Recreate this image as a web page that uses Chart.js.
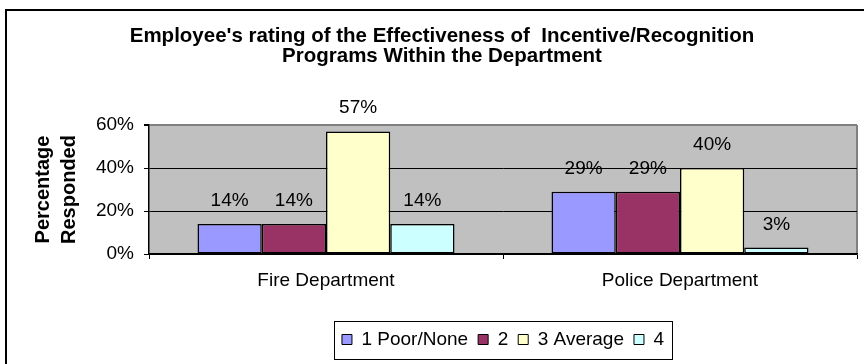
<!DOCTYPE html>
<html>
<head>
<meta charset="utf-8">
<script src="https://cdn.jsdelivr.net/npm/chart.js@4.4.1/dist/chart.umd.min.js"></script>
<style>
  html, body { margin: 0; padding: 0; background: #fff; overflow: hidden; }
  #frame { position: absolute; left: 5px; top: 9px; width: 900px; height: 400px; border: 2px solid #000; }
  #wrap { position: absolute; left: 0; top: 0; width: 864px; height: 364px; }
</style>
</head>
<body>
<div id="frame"></div>
<div id="wrap"><canvas id="chart" width="864" height="364"></canvas></div>
<script>
const departments = ["Fire Department", "Police Department"];
const ratingNames = ["1 Poor/None", "2", "3 Average", "4"];
const poorNone = [14, 29];
const ratingTwo = [14, 29];
const average = [57, 40];
const ratingFour = [14, 3];
const yMin = 0;
const yMax = 60;
const yStep = 20;

const barColors = ["#9999FF", "#993366", "#FFFFCC", "#CCFFFF"];
const FONT = "'Liberation Sans', Arial, sans-serif";

const seriesValues = [poorNone, ratingTwo, average, ratingFour];

// gray plot background plus the thin gray right edge
const plotBackground = {
  id: "plotBackground",
  beforeDraw(chart) {
    const { ctx, chartArea: a } = chart;
    ctx.save();
    ctx.fillStyle = "#C0C0C0";
    ctx.fillRect(a.left, a.top, a.right - a.left, a.bottom - a.top);
    ctx.strokeStyle = "#808080";
    ctx.lineWidth = 2;
    ctx.beginPath();
    ctx.moveTo(a.right, a.top);
    ctx.lineTo(a.right, a.bottom);
    ctx.stroke();
    ctx.restore();
  }
};

// percentage text above each bar
const valueLabels = {
  id: "valueLabels",
  afterDatasetsDraw(chart) {
    const { ctx } = chart;
    ctx.save();
    ctx.font = "19px " + FONT;
    ctx.fillStyle = "#000";
    ctx.textAlign = "center";
    ctx.textBaseline = "alphabetic";
    chart.data.datasets.forEach((ds, i) => {
      chart.getDatasetMeta(i).data.forEach((bar, j) => {
        ctx.fillText(ds.data[j] + "%", bar.x, bar.y - 18);
      });
    });
    ctx.restore();
  }
};

// rectangle drawn round the legend items
const legendFrame = {
  id: "legendFrame",
  afterDraw(chart) {
    const boxes = chart.legend && chart.legend.legendHitBoxes;
    if (!boxes || !boxes.length) return;
    const left = Math.min(...boxes.map(b => b.left)) - 8;
    const right = Math.max(...boxes.map(b => b.left + b.width)) + 8;
    const mid = boxes[0].top + boxes[0].height / 2;
    const { ctx } = chart;
    ctx.save();
    ctx.strokeStyle = "#000";
    ctx.lineWidth = 1;
    ctx.strokeRect(Math.round(left) + 0.5, Math.round(mid - 19) + 0.5, Math.round(right - left), 38);
    ctx.restore();
  }
};

new Chart(document.getElementById("chart"), {
  type: "bar",
  data: {
    labels: departments,
    datasets: ratingNames.map((name, i) => ({
      label: name,
      data: seriesValues[i],
      backgroundColor: barColors[i],
      borderColor: "#000",
      borderWidth: 1.5,
      borderSkipped: false,
      categoryPercentage: 0.726,
      barPercentage: 1.0
    }))
  },
  options: {
    responsive: false,
    animation: false,
    events: [],
    layout: { padding: { left: 27, right: 7, top: 0, bottom: 5 } },
    scales: {
      x: {
        grid: { display: true, drawOnChartArea: false, drawTicks: true, tickLength: 5, color: "#000" },
        border: { color: "#000", width: 1.5 },
        ticks: { color: "#000", font: { family: FONT, size: 19 }, padding: 10 },
        afterFit(scale) { scale.height = 66; }
      },
      y: {
        min: yMin,
        max: yMax,
        ticks: {
          stepSize: yStep,
          color: "#000",
          font: { family: FONT, size: 19 },
          padding: 10,
          callback: v => v + "%"
        },
        grid: {
          color: ctx => (ctx.tick && ctx.tick.value === yMax ? "#808080" : "#000"),
          lineWidth: ctx => (ctx.tick && ctx.tick.value === yMax ? 2 : 1),
          tickLength: 5,
          tickColor: "#000"
        },
        border: { color: "#000", width: 1.5 },
        title: {
          display: true,
          text: ["Percentage", "Responded"],
          color: "#000",
          font: { family: FONT, size: 20, weight: "bold", lineHeight: 1.3 },
          padding: { top: 3, bottom: 0 }
        },
        afterFit(scale) { scale.width = 122; }
      }
    },
    plugins: {
      title: {
        display: true,
        text: [
          "Employee's rating of the Effectiveness of  Incentive/Recognition",
          "Programs Within the Department"
        ],
        color: "#000",
        font: { family: FONT, size: 20.5, weight: "bold", lineHeight: 20 / 20.5 },
        padding: { top: 26, bottom: 59 }
      },
      legend: {
        position: "bottom",
        fullSize: false,
        labels: {
          color: "#000",
          font: { family: FONT, size: 19 },
          boxWidth: 10,
          boxHeight: 10,
          padding: 10,
          generateLabels(chart) {
            return Chart.defaults.plugins.legend.labels.generateLabels(chart).map(item => {
              item.lineWidth = 1;
              return item;
            });
          }
        }
      },
      tooltip: { enabled: false }
    }
  },
  plugins: [plotBackground, valueLabels, legendFrame]
});
</script>
</body>
</html>
